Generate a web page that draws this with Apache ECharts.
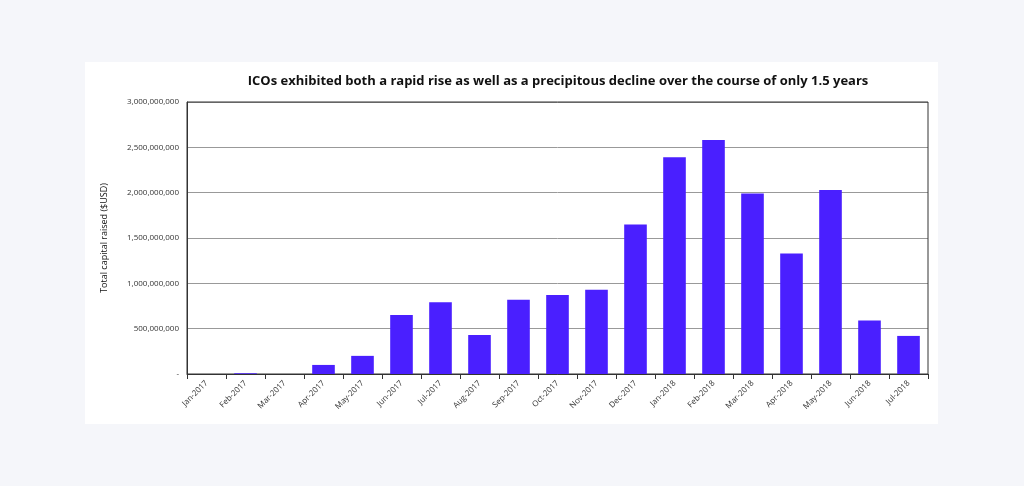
<!DOCTYPE html>
<html><head><meta charset="utf-8">
<script src="https://cdn.jsdelivr.net/npm/echarts@6/dist/echarts.min.js"></script>
<style>html,body{margin:0;padding:0;background:#f5f6fa;}
#card{position:absolute;left:85px;top:62px;width:853px;height:362px;background:#fff;}
#c{position:absolute;left:0;top:0;width:1024px;height:486px;}</style>
</head><body><div id="card"></div><div id="c"></div>
<script>
const categories = ["Jan-2017","Feb-2017","Mar-2017","Apr-2017","May-2017","Jun-2017","Jul-2017","Aug-2017","Sep-2017","Oct-2017","Nov-2017","Dec-2017","Jan-2018","Feb-2018","Mar-2018","Apr-2018","May-2018","Jun-2018","Jul-2018"];
const raised = [0,8000000,0,100000000,200000000,650000000,790000000,430000000,820000000,870000000,930000000,1650000000,2390000000,2580000000,1990000000,1330000000,2030000000,590000000,420000000];
const chart = echarts.init(document.getElementById('c'));
const font = 'Open Sans';
chart.setOption({
  animation:false,
  title:{text:'ICOs exhibited both a rapid rise as well as a precipitous decline over the course of only 1.5 years',left:553,top:70,textAlign:'center',
    textStyle:{fontFamily:font,fontSize:13,fontWeight:'bold',color:'#111'}},
  grid:{left:187,right:96,top:102,bottom:112},
  xAxis:{type:'category',data:categories,
    axisLine:{lineStyle:{color:'#333',width:1}},
    axisTick:{show:true,alignWithLabel:false,lineStyle:{color:'#333'}},
    axisLabel:{rotate:45,fontFamily:font,fontSize:8,color:'#333',interval:0,margin:8}},
  yAxis:{type:'value',min:0,max:3000000000,interval:500000000,
    name:'Total capital raised ($USD)',nameLocation:'middle',nameGap:78,
    nameTextStyle:{fontFamily:font,fontSize:9,color:'#111'},
    axisLine:{show:true,lineStyle:{color:'#333'}},
    axisTick:{show:false},
    splitLine:{lineStyle:{color:'#999'}},
    axisLabel:{fontFamily:font,fontSize:8,color:'#333',
      formatter:v=>v===0?'-':v.toLocaleString('en-US')}},
  series:[{type:'bar',data:raised,barCategoryGap:'42%',
    itemStyle:{color:'#4a1fff'}},
    {type:'line',data:[],markLine:{}}]
});
chart.setOption({graphic:[{type:'rect',shape:{x:187,y:102,width:741,height:272},style:{fill:'none',stroke:'#333',lineWidth:1},silent:true}]});
</script></body></html>
